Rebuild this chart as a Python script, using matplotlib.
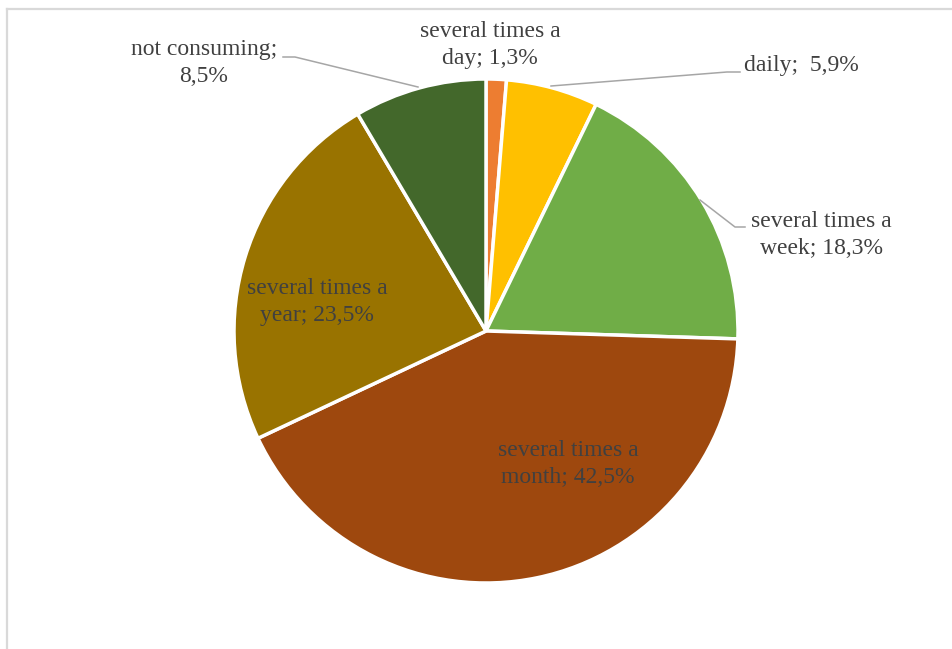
import matplotlib
matplotlib.use("Agg")
import matplotlib.pyplot as plt

categories = ["several times a day", "daily", "several times a week",
              "several times a month", "several times a year", "not consuming"]
values = [1.3, 5.9, 18.3, 42.5, 23.5, 8.5]
label_texts = ["several times a\nday; 1,3%", "daily;  5,9%", "several times a\nweek; 18,3%",
               "several times a\nmonth; 42,5%", "several times a\nyear; 23,5%",
               "not consuming;\n8,5%"]
colors = ["#ED7D31", "#FFC000", "#70AD47", "#9E480E", "#997300", "#43682B"]

W, H = 952, 649
fig = plt.figure(figsize=(W / 100, H / 100), dpi=100)
ax = fig.add_axes([0, 0, 1, 1])

def Y(yp):
    return H - yp

ax.pie(values, colors=colors, startangle=90, counterclock=False,
       center=(486, Y(331)), radius=252, frame=True,
       wedgeprops=dict(edgecolor="white", linewidth=2.5))
ax.set_xlim(0, W)
ax.set_ylim(0, H)
ax.set_aspect("equal")
ax.axis("off")

# label positions (pixel coords, centre of text)
label_pos = [(490, 45), (801, 66), (821, 235), (568, 464), (317, 302), (204, 63)]
font = dict(family="Liberation Serif", fontsize=17, color="#404040",
            ha="center", va="center", linespacing=1.4)
for txt, (x, y) in zip(label_texts, label_pos):
    ax.text(x, Y(y), txt, **font)

# leader lines
lc = dict(color="#A6A6A6", lw=1.1)
ax.plot([283, 295, 418], [Y(57), Y(57), Y(87)], **lc)
ax.plot([551, 727, 740], [Y(86), Y(72), Y(72)], **lc)
ax.plot([700, 735, 745], [Y(200), Y(227), Y(227)], **lc)

# chart border (top and left visible)
bc = dict(color="#D9D9D9", lw=1.6)
ax.plot([6.5, W], [Y(8.5), Y(8.5)], **bc)
ax.plot([6.5, 6.5], [Y(8.5), 0], **bc)

fig.savefig("out.png", dpi=100)
